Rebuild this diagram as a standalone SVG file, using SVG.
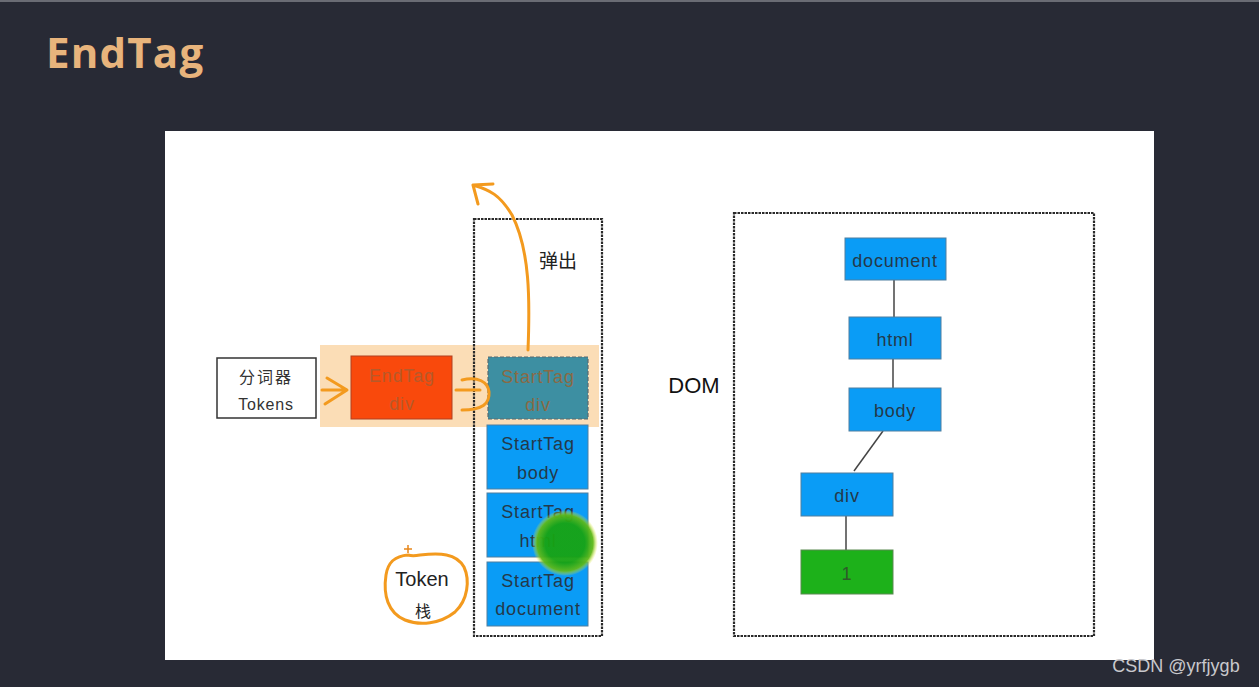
<svg xmlns="http://www.w3.org/2000/svg" width="1259" height="687" viewBox="0 0 1259 687">
<defs>
<style>
.t{font-family:"Liberation Sans","Noto Sans CJK SC",sans-serif;font-size:18px;letter-spacing:0.8px;fill:#24394a;text-anchor:middle}
.blue{fill:#0a9cf6;stroke:#4f7fa0;stroke-width:1}
.frame{fill:none;stroke:#2a2a2a;stroke-width:2.2;stroke-dasharray:2.5 1}
.conn{stroke:#444;stroke-width:1.5;fill:none}
.or{fill:none;stroke:#f39a1e;stroke-width:3;stroke-linecap:round;stroke-linejoin:round}
</style>
<radialGradient id="glow">
<stop offset="0.6" stop-color="#17a312"/>
<stop offset="0.85" stop-color="#5fb91a"/>
<stop offset="1" stop-color="#f2ee3a" stop-opacity="0"/>
</radialGradient>
</defs>
<rect width="1259" height="687" fill="#282a35"/>
<rect width="1259" height="2" fill="#6a6c74"/>
<text x="46" y="68" font-family="'Open Sans','Noto Sans',sans-serif" font-weight="bold" font-size="42" letter-spacing="1.2" fill="#e8b47c">EndTag</text>
<rect x="165" y="131" width="989" height="529" fill="#ffffff"/>

<!-- highlight band -->
<rect id="highlight" x="320" y="345" width="279" height="82" fill="#fbd9ae" opacity="0.9"/>

<!-- stack frame -->
<g id="stack">
<rect class="frame" x="474" y="219" width="128" height="417"/>
<text x="558" y="268" font-family="'Noto Sans CJK SC',sans-serif" font-size="19" fill="#222" text-anchor="middle">弹出</text>
</g>

<g id="tokenizer">
<rect x="217" y="358" width="99" height="60" fill="#fff" stroke="#333" stroke-width="1.5"/>
<text class="t" x="266" y="383" style="fill:#333;font-family:'Noto Sans CJK SC',sans-serif;font-size:16px;letter-spacing:2px">分词器</text>
<text class="t" x="266" y="410" style="fill:#333;font-size:16px">Tokens</text>
</g>

<g id="endtag-div">
<rect x="351" y="356" width="101" height="63" fill="#f9490c" stroke="#b04020" stroke-width="1"/>
<text class="t" x="402" y="382" style="fill:#b65a2a">EndTag</text>
<text class="t" x="402" y="410" style="fill:#b65a2a">div</text>
</g>

<g id="starttag-div">
<rect x="488" y="357" width="100" height="62" fill="#3d8fa2" stroke="#5a6a6e" stroke-width="1.2" stroke-dasharray="4 2"/>
<text class="t" x="538" y="383" style="fill:#8a6a45">StartTag</text>
<text class="t" x="538" y="411" style="fill:#8a6a45">div</text>
</g>

<g id="starttag-body">
<rect class="blue" x="487" y="425" width="101" height="64"/>
<text class="t" x="538" y="450">StartTag</text>
<text class="t" x="538" y="479">body</text>
</g>

<g id="starttag-html">
<rect class="blue" x="487" y="493" width="101" height="64"/>
<text class="t" x="538" y="518">StartTag</text>
<text class="t" x="538" y="547">html</text>
</g>

<g id="starttag-document">
<rect class="blue" x="487" y="562" width="101" height="64"/>
<text class="t" x="538" y="587">StartTag</text>
<text class="t" x="538" y="615">document</text>
</g>

<!-- cursor blob -->
<circle cx="565" cy="543" r="33" fill="url(#glow)" opacity="0.95"/>

<!-- Token stack label -->
<g id="token-stack-label">
<path class="or" d="M408,555 C395,556 388,562 386,575 C383,595 388,613 405,620 C420,626 440,624 455,612 C468,600 470,580 464,567 C456,553 440,553 420,555 C415,556 411,556 408,555" stroke-width="2.5"/>
<path d="M404,549 H412 M408,545 V553" stroke="#e8861a" stroke-width="1.5"/>
<text x="422" y="586" font-family="'Liberation Sans',sans-serif" font-size="20" fill="#222" text-anchor="middle">Token</text>
<text x="423" y="617" font-family="'Noto Sans CJK SC',sans-serif" font-size="16" fill="#222" text-anchor="middle">栈</text>
</g>

<!-- DOM -->
<text id="dom-label" x="694" y="393" font-family="'Liberation Sans',sans-serif" font-size="22" fill="#111" text-anchor="middle">DOM</text>
<g id="dom-frame"><rect class="frame" x="734" y="213" width="360" height="423"/></g>

<g id="connectors">
<line class="conn" x1="894" y1="280" x2="894" y2="317"/>
<line class="conn" x1="893" y1="359" x2="893" y2="388"/>
<line class="conn" x1="883" y1="431" x2="854" y2="471"/>
<line class="conn" x1="846" y1="516" x2="846" y2="550"/>
<!-- orange arrows -->
<path class="or" d="M322,390 H346 M327,378 L347,390 L325,404"/>
<path class="or" d="M456,390 H480 M462,380 C478,376 488,382 489,392 C490,404 482,410 462,410"/>
<path class="or" d="M528,350 C530,300 530,250 512,215 C500,195 490,190 473,185 M473,185 L493,184 M473,185 L478,204"/>
</g>

<g id="dom-document">
<rect class="blue" x="845" y="238" width="101" height="42"/>
<text class="t" x="895" y="267">document</text>
</g>
<g id="dom-html">
<rect class="blue" x="849" y="317" width="92" height="42"/>
<text class="t" x="895" y="346">html</text>
</g>
<g id="dom-body">
<rect class="blue" x="849" y="388" width="92" height="43"/>
<text class="t" x="895" y="417">body</text>
</g>
<g id="dom-div">
<rect class="blue" x="801" y="473" width="92" height="43"/>
<text class="t" x="847" y="502">div</text>
</g>
<g id="dom-text1">
<rect x="801" y="550" width="92" height="44" fill="#1db11a" stroke="#5a8a50" stroke-width="1"/>
<text class="t" x="847" y="580" style="fill:#2e5a2a">1</text>
</g>

<text x="1176" y="672" font-family="'Liberation Sans',sans-serif" font-size="18" fill="#c8c8cc" text-anchor="middle">CSDN @yrfjygb</text>
</svg>
